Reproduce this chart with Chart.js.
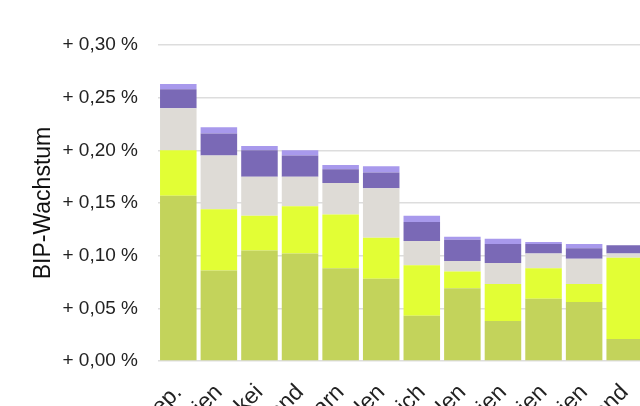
<!DOCTYPE html>
<html>
<head>
<meta charset="utf-8">
<script src="https://cdn.jsdelivr.net/npm/chart.js@4"></script>
<style>
  html, body { margin: 0; padding: 0; overflow: hidden; background: #fff; }
  #wrap { position: absolute; left: 0; top: 0; width: 645px; height: 471px; }
</style>
</head>
<body>
<div id="wrap"><canvas id="chart"></canvas></div>
<script>
// Laender (nur die Enden sind im Ausschnitt sichtbar)
const countries = ['Tschech. Rep.', 'Slowenien', 'Slowakei', 'Deutschland', 'Ungarn', 'Polen',
  'Österreich', 'Schweden', 'Belgien', 'Rumänien', 'Spanien', 'Finnland'];

// BIP-Wachstum in Prozentpunkten, je Komponente (von unten nach oben)
const part1 = [0.157, 0.086, 0.105, 0.102, 0.088, 0.078, 0.043, 0.069, 0.038, 0.059, 0.056, 0.021];
const part2 = [0.043, 0.058, 0.033, 0.045, 0.051, 0.039, 0.048, 0.016, 0.035, 0.029, 0.017, 0.077];
const part3 = [0.040, 0.051, 0.037, 0.028, 0.030, 0.047, 0.023, 0.010, 0.020, 0.014, 0.024, 0.004];
const part4 = [0.018, 0.021, 0.025, 0.020, 0.013, 0.015, 0.018, 0.020, 0.018, 0.009, 0.010, 0.008];
const part5 = [0.005, 0.006, 0.004, 0.005, 0.004, 0.006, 0.006, 0.003, 0.005, 0.002, 0.004, 0.000];

const yTicks = [0, 0.05, 0.10, 0.15, 0.20, 0.25, 0.30];

const colors = ['#c3d35b', '#e2fe35', '#dedbd6', '#7a69b6', '#a899ec'];

function makeSet(label, data, i) {
  return {
    label: label,
    data: data,
    backgroundColor: colors[i],
    borderWidth: 0,
    barPercentage: 0.9,
    categoryPercentage: 1.0,
  };
}

const font = 'Liberation Sans, Arial, sans-serif';

new Chart(document.getElementById('chart'), {
  type: 'bar',
  data: {
    labels: countries,
    datasets: [
      makeSet('Komponente 1', part1, 0),
      makeSet('Komponente 2', part2, 1),
      makeSet('Komponente 3', part3, 2),
      makeSet('Komponente 4', part4, 3),
      makeSet('Komponente 5', part5, 4),
    ],
  },
  options: {
    responsive: true,
    maintainAspectRatio: false,
    animation: false,
    layout: { padding: { top: 45, left: 0, right: 0, bottom: 0 } },
    plugins: { legend: { display: false }, tooltip: { enabled: false } },
    scales: {
      x: {
        stacked: true,
        grid: { display: false, drawTicks: false },
        border: { display: false },
        ticks: {
          autoSkip: false,
          minRotation: 45,
          maxRotation: 45,
          padding: 18,
          color: '#222',
          font: { family: font, size: 23 },
        },
        afterFit: (s) => { s.height = 110; s.paddingLeft = 0; s.paddingRight = 0; },
      },
      y: {
        stacked: true,
        min: 0,
        max: 0.30,
        afterBuildTicks: (s) => { s.ticks = yTicks.map(v => ({ value: v })); },
        grid: { color: '#dddddd', lineWidth: 1.5, drawTicks: false },
        border: { display: false },
        ticks: {
          padding: 20,
          color: '#222',
          font: { family: font, size: 19 },
          callback: (v) => '+ ' + (Math.round(v * 100) / 100).toFixed(2).replace('.', ',') + ' %',
        },
        title: {
          display: true,
          text: 'BIP-Wachstum',
          color: '#111',
          font: { family: font, size: 23 },
          padding: { top: 30, bottom: 0 },
        },
        afterFit: (s) => { s.width = 158; },
      },
    },
  },
});
</script>
</body>
</html>
